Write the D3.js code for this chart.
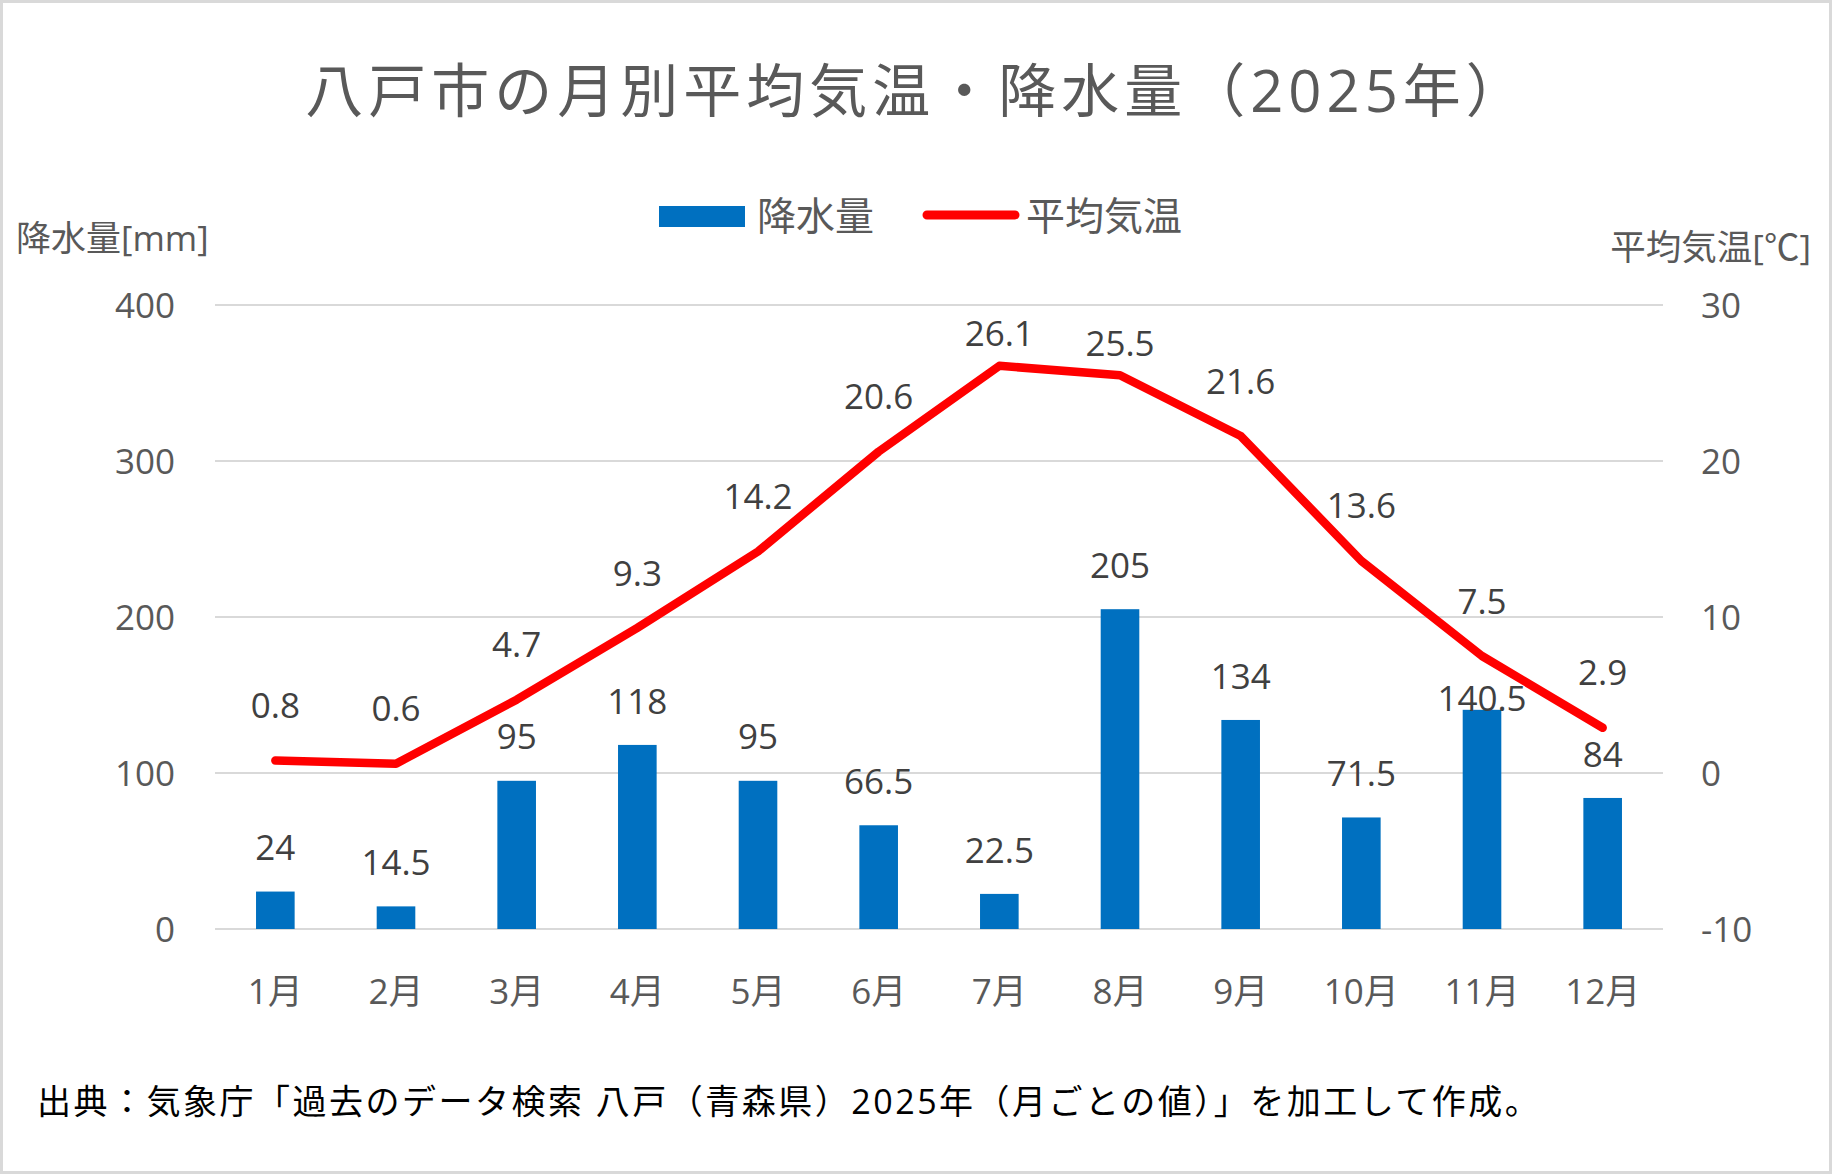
<!DOCTYPE html>
<html lang="ja">
<head>
<meta charset="utf-8">
<title>八戸市の月別平均気温・降水量</title>
<script src="https://cdn.jsdelivr.net/npm/d3@7"></script>
<style>
  body { margin: 0; background: #fff; }
  text { font-family: "Open Sans", "Noto Sans CJK JP", sans-serif; }
</style>
</head>
<body>
<script>
// data
var months = ["1月","2月","3月","4月","5月","6月","7月","8月","9月","10月","11月","12月"];
var precip = [24, 14.5, 95, 118, 95, 66.5, 22.5, 205, 134, 71.5, 140.5, 84];
var temp = [0.8, 0.6, 4.7, 9.3, 14.2, 20.6, 26.1, 25.5, 21.6, 13.6, 7.5, 2.9];
var precipTicks = [0, 100, 200, 300, 400];
var tempTicks = [-10, 0, 10, 20, 30];

var width = 1832, height = 1174;
var plotLeft = 215, plotRight = 1663, plotTop = 305, plotBottom = 929;

var svg = d3.select("body").append("svg")
    .attr("width", width)
    .attr("height", height);

svg.append("rect")
    .attr("x", 1.5).attr("y", 1.5)
    .attr("width", width - 3).attr("height", height - 3)
    .attr("fill", "#fff")
    .attr("stroke", "#d9d9d9")
    .attr("stroke-width", 3);

var x = d3.scaleBand().domain(months).range([plotLeft, plotRight]).paddingInner(0.68).paddingOuter(0.34);
var xc = function(m) { return x(m) + x.bandwidth() / 2; };
var yL = d3.scaleLinear().domain([0, 400]).range([plotBottom, plotTop]);
var yR = d3.scaleLinear().domain([-10, 30]).range([plotBottom, plotTop]);

// title
svg.append("text")
    .attr("x", 917).attr("y", 112)
    .attr("text-anchor", "middle")
    .attr("fill", "#595959")
    .style("font-size", "58px")
    .style("letter-spacing", "5px")
    .text("八戸市の月別平均気温・降水量（2025年）");

// gridlines
svg.append("g").selectAll("line").data(precipTicks).enter()
    .append("line")
    .attr("x1", plotLeft).attr("x2", plotRight)
    .attr("y1", function(d) { return yL(d); })
    .attr("y2", function(d) { return yL(d); })
    .attr("stroke", "#d9d9d9")
    .attr("stroke-width", 2);

// axes
var axL = svg.append("g")
    .attr("transform", "translate(" + (plotLeft - 40) + ",0)")
    .call(d3.axisLeft(yL).tickValues(precipTicks).tickSize(0).tickPadding(0));
var axR = svg.append("g")
    .attr("transform", "translate(" + (plotRight + 38) + ",0)")
    .call(d3.axisRight(yR).tickValues(tempTicks).tickSize(0).tickPadding(0)
        .tickFormat(function(d) { return d < 0 ? "-" + Math.abs(d) : d; }));
var axB = svg.append("g")
    .attr("transform", "translate(0," + (plotBottom + 59) + ")")
    .call(d3.axisBottom(x).tickSize(0).tickPadding(0));
[axL, axR, axB].forEach(function(a) {
    a.select(".domain").remove();
    a.selectAll("text")
        .attr("fill", "#595959")
        .style("font-size", "35px")
        .style("font-family", "\"Open Sans\", \"Noto Sans CJK JP\", sans-serif");
});
axL.selectAll("text").attr("dy", "0.36em");
axR.selectAll("text").attr("dy", "0.36em");
axB.selectAll("text").attr("dy", "0.45em");

// axis titles
svg.append("text")
    .attr("x", 16).attr("y", 251)
    .attr("fill", "#595959")
    .style("font-size", "35px")
    .text("降水量[mm]");
svg.append("text")
    .attr("x", 1811).attr("y", 260)
    .attr("text-anchor", "end")
    .attr("fill", "#595959")
    .style("font-size", "35.5px")
    .text("平均気温[℃]");

// bars
svg.append("g").selectAll("rect").data(precip).enter()
    .append("rect")
    .attr("x", function(d, i) { return x(months[i]); })
    .attr("width", x.bandwidth())
    .attr("y", function(d) { return yL(d); })
    .attr("height", function(d) { return yL(0) - yL(d); })
    .attr("fill", "#0070c0");

// line
var line = d3.line()
    .x(function(d, i) { return xc(months[i]); })
    .y(function(d) { return yR(d); });
svg.append("path")
    .datum(temp)
    .attr("d", line)
    .attr("fill", "none")
    .attr("stroke", "#ff0000")
    .attr("stroke-width", 8.5)
    .attr("stroke-linejoin", "round")
    .attr("stroke-linecap", "round");

// labels on the line
function tempLabelY(d) {
    // the highest labels get squeezed below the top of the plot
    return yR(d) - (d > 25 ? 32 : 55);
}
svg.append("g").selectAll("text").data(temp).enter()
    .append("text")
    .attr("x", function(d, i) { return xc(months[i]); })
    .attr("y", function(d) { return tempLabelY(d); })
    .attr("dy", "0.36em")
    .attr("text-anchor", "middle")
    .attr("fill", "#404040")
    .style("font-size", "35px")
    .text(function(d) { return d; });

// labels on the bars, pushed below the line when they would hit it
function precipLabelY(d, i) {
    var y = yL(d) - 44;
    var ly = yR(temp[i]);
    if (Math.abs(y - ly) < 24) y = ly + 42;
    return y;
}
svg.append("g").selectAll("text").data(precip).enter()
    .append("text")
    .attr("x", function(d, i) { return xc(months[i]); })
    .attr("y", function(d, i) { return precipLabelY(d, i); })
    .attr("dy", "0.36em")
    .attr("text-anchor", "middle")
    .attr("fill", "#404040")
    .style("font-size", "35px")
    .text(function(d) { return d; });

// legend
var lg = svg.append("g");
lg.append("rect")
    .attr("x", 659).attr("y", 206).attr("width", 86).attr("height", 21)
    .attr("fill", "#0070c0");
lg.append("text")
    .attr("x", 757).attr("y", 216).attr("dy", "0.36em")
    .attr("fill", "#595959")
    .style("font-size", "39px")
    .text("降水量");
lg.append("line")
    .attr("x1", 927).attr("x2", 1015).attr("y1", 215).attr("y2", 215)
    .attr("stroke", "#ff0000").attr("stroke-width", 9)
    .attr("stroke-linecap", "round");
lg.append("text")
    .attr("x", 1026).attr("y", 216).attr("dy", "0.36em")
    .attr("fill", "#595959")
    .style("font-size", "39px")
    .text("平均気温");

// source
svg.append("text")
    .attr("x", 37).attr("y", 1114)
    .attr("fill", "#000")
    .style("font-size", "34px")
    .style("letter-spacing", "2.5px")
    .text("出典：気象庁「過去のデータ検索 八戸（青森県）2025年（月ごとの値）」を加工して作成。");
</script>
</body>
</html>
